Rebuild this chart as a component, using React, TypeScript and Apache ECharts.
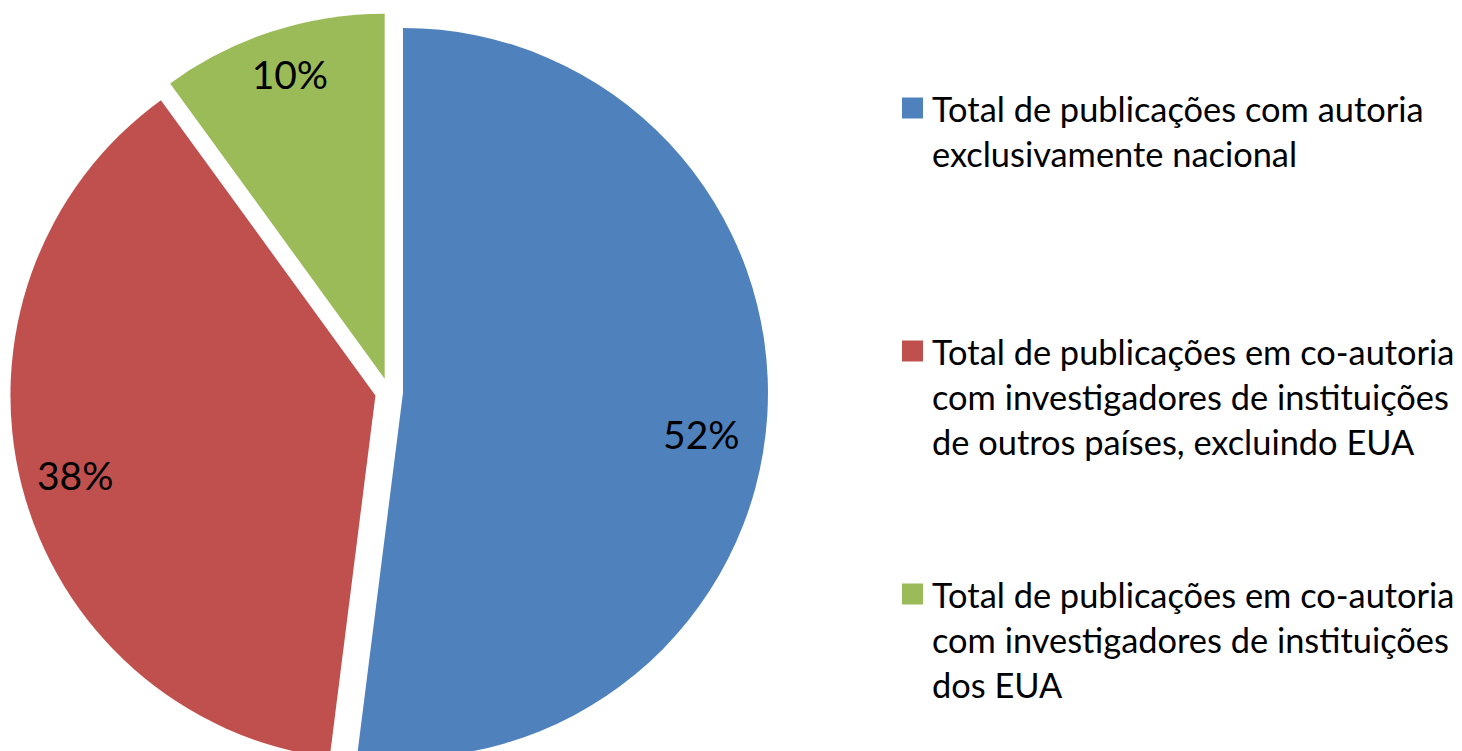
import React, { useEffect, useRef } from "react";
import * as echarts from "echarts";

const categories = [
  "Total de publicações com autoria exclusivamente nacional",
  "Total de publicações em co-autoria com investigadores de instituições de outros países, excluindo EUA",
  "Total de publicações em co-autoria com investigadores de instituições dos EUA",
];
const legendLines = [
  ["Total de publicações com autoria", "exclusivamente nacional"],
  ["Total de publicações em co-autoria", "com investigadores de instituições", "de outros países, excluindo EUA"],
  ["Total de publicações em co-autoria", "com investigadores de instituições", "dos EUA"],
];
const values = [52, 38, 10];
const colors = ["#4F81BD", "#C0504D", "#9BBB59"];
// small nudges of the data labels (px), to follow the reference's label placement
const labelNudge = [
  [-11, 22],
  [0, 2],
  [1, -10],
];

const FONT = "Lato, 'Noto Sans', sans-serif";
const LINE_H = 45;

export default function App() {
  const ref = useRef<HTMLDivElement>(null);
  useEffect(() => {
    if (!ref.current) return;
    const chart = echarts.init(ref.current, undefined, { renderer: "svg" });
    const maxL = Math.max(...legendLines.map((l) => l.length));
    const center = [389, 392];
    const R = 365;
    const option: any = {
      animation: false,
      color: colors,
      legend: {
        orient: "vertical",
        left: 902,
        top: -4.5,
        padding: 0,
        itemGap: 18,
        itemWidth: 21,
        itemHeight: 21,
        icon: "rect",
        selectedMode: false,
        data: categories,
        formatter: (name: string) => {
          const lines = legendLines[categories.indexOf(name)];
          const top = new Array(maxL - 1).fill("");
          const bottom = new Array(maxL - lines.length).fill("");
          return [...top, ...lines, ...bottom].join("\n");
        },
        textStyle: {
          fontFamily: FONT,
          fontSize: 34.4,
          lineHeight: LINE_H,
          color: "#000",
          padding: [0, 0, 0, 4],
        },
      },
      series: [
        {
          type: "pie",
          center,
          radius: [0, R],
          startAngle: 90,
          clockwise: true,
          selectedMode: "multiple",
          selectedOffset: 14,
          silent: true,
          label: { show: false },
          labelLine: { show: false },
          emphasis: { disabled: true },
          itemStyle: { borderWidth: 0 },
          data: categories.map((name, i) => ({
            name,
            value: values[i],
            selected: true,
            itemStyle: { color: colors[i] },
          })),
        },
        {
          type: "pie",
          center,
          radius: [249, R],
          startAngle: 90,
          clockwise: true,
          selectedMode: "multiple",
          selectedOffset: 14,
          silent: true,
          avoidLabelOverlap: false,
          emphasis: { disabled: true },
          itemStyle: { color: "rgba(0,0,0,0)", borderWidth: 0 },
          label: {
            show: true,
            position: "inside",
            formatter: "{c}%",
            fontFamily: FONT,
            fontSize: 39,
            color: "#000",
          },
          labelLayout: (p: any) => ({ dx: labelNudge[p.dataIndex][0], dy: labelNudge[p.dataIndex][1] }),
          labelLine: { show: false },
          data: categories.map((name, i) => ({
            name,
            value: values[i],
            selected: true,
          })),
        },
      ],
    };
    chart.setOption(option);
    return () => chart.dispose();
  }, []);
  return (
    <div
      ref={ref}
      style={{ position: "fixed", left: 0, top: 0, width: 1462, height: 751, background: "#fff" }}
    />
  );
}
